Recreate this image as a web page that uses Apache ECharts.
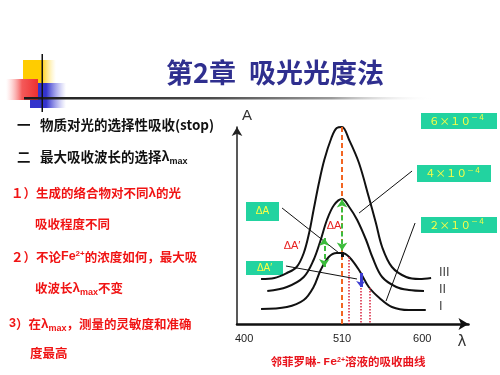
<!DOCTYPE html>
<html><head><meta charset="utf-8">
<script src="https://cdn.jsdelivr.net/npm/echarts@6/dist/echarts.min.js"></script>
<style>html,body{margin:0;padding:0;background:#fff}#c{width:500px;height:375px}</style>
</head><body><div id="c"></div>
<script>
// ---- data (wavelength nm, absorbance) ----
const xTicks = [400, 510, 600];
const curveI = [[419,0.075],[448,0.085],[467,0.12],[478,0.185],[486,0.27],[495,0.335],[504,0.355],[510,0.355],[518,0.335],[529,0.27],[540,0.185],[552,0.13],[566,0.085],[585,0.07],[604,0.07]];
const curveII = [[426,0.165],[448,0.185],[467,0.235],[478,0.32],[486,0.42],[493,0.52],[501,0.595],[510,0.625],[518,0.585],[527,0.52],[537,0.42],[544,0.335],[555,0.235],[571,0.185],[585,0.17],[602,0.165]];
const curveIII = [[419,0.225],[434,0.23],[448,0.255],[459,0.285],[467,0.355],[473,0.455],[478,0.57],[484,0.705],[490,0.82],[498,0.93],[504,0.98],[510,0.985],[518,0.92],[529,0.805],[540,0.635],[548,0.505],[555,0.385],[566,0.285],[582,0.235],[597,0.225],[610,0.23]];
const curveNames = ['I', 'II', 'III'];
const concLabels = ['２×１０', '４×１０', '６×１０'];
const peakLine = [[510, 0], [510, 0.985]];
const greenArrowPeak = [[510, 0.622], [510, 0.368]];
const greenArrowSide = [[490, 0.43], [490, 0.285]];
const blackMark = [[510, 0.36], [510, 0.335]];
const blueArrow = [[531, 0.255], [531, 0.185]];
const dotLines = [[[518, 0.335], [518, 0]], [[531, 0.18], [531, 0]], [[541, 0.18], [541, 0]]];
const leaderLines = [
  [[597.5, 1.025], [526.8, 0.89]],
  [[588.6, 0.765], [529.1, 0.555]],
  [[592, 0.505], [559.4, 0.115]],
  [[442.6, 0.58], [506.6, 0.355]],
  [[447, 0.29], [526.8, 0.225]]
];
const leftLines = [
  {x: 40, y: 125, color: '#111', size: 13.5, text: '物质对光的选择性吸收(stop)'},
  {x: 40, y: 157, color: '#111', size: 13.5, text: '最大吸收波长的选择{l|λ}{s|max}'},
  {x: 11, y: 193, color: '#f01414', size: 12.5, text: '１）生成的络合物对不同{l|λ}的光'},
  {x: 35, y: 224, color: '#f01414', size: 12.5, text: '吸收程度不同'},
  {x: 11, y: 257, color: '#f01414', size: 12.5, text: '２）不论{f|Fe}{p|2+}的浓度如何，最大吸'},
  {x: 35, y: 288, color: '#f01414', size: 12.5, text: '收波长{l|λ}{s|max}不变'},
  {x: 9, y: 324, color: '#f01414', size: 12.5, text: '{f|3}）在{l|λ}{s|max}，测量的灵敏度和准确'},
  {x: 30, y: 353, color: '#f01414', size: 12.5, text: '度最高'}
];

const CJK = '"Noto Sans CJK SC", "Noto Sans", sans-serif';
const LAT = '"Liberation Sans", Arial, sans-serif';

function richFor(color, size) {
  return {
    l: {fontFamily: LAT, fontWeight: 'bold', fontSize: size + 1, fill: color, lineHeight: 20},
    s: {fontFamily: LAT, fontWeight: 'bold', fontSize: 9, fill: color, verticalAlign: 'bottom', lineHeight: 9, padding: [0, 0, 1, 0]},
    f: {fontFamily: LAT, fontWeight: 'bold', fontSize: size, fill: color, lineHeight: 20},
    p: {fontFamily: LAT, fontWeight: 'bold', fontSize: 8, fill: color, verticalAlign: 'top', lineHeight: 8, padding: [3, 0, 0, 0]}
  };
}

const chart = echarts.init(document.getElementById('c'), null, {renderer: 'canvas', width: 500, height: 375});

function seg(p, style, s0, s1, size) {
  return [
    {coord: p[0], symbol: s0 || 'none', symbolSize: size || 8, lineStyle: style},
    {coord: p[1], symbol: s1 || 'none', symbolSize: size || 8}
  ];
}

const orangeStyle = {color: '#f26522', width: 2, type: [5, 3]};
const greenStyle = {color: '#3cbc3c', width: 2, type: [5, 3]};
const dotStyle = {color: '#d8203c', width: 1.5, type: [1.5, 1.5]};
const leaderStyle = {color: '#111', width: 1, type: 'solid'};

const markData = [];
leaderLines.forEach(p => markData.push(seg(p, leaderStyle)));
dotLines.forEach(p => markData.push(seg(p, dotStyle)));
markData.push(seg(peakLine, orangeStyle));
markData.push(seg(greenArrowPeak, greenStyle, 'arrow', 'arrow', [8, 8]));
markData.push(seg(greenArrowSide, greenStyle, 'arrow', 'arrow', [8, 8]));
markData.push(seg(blackMark, {color: '#111', width: 3, type: 'solid'}));
markData.push(seg(blueArrow, {color: '#3c3cd0', width: 3, type: 'solid'}, 'none', 'arrow', [7, 6]));

const curveSeries = [curveI, curveII, curveIII].map((d, i) => ({
  type: 'line', name: curveNames[i], data: d, smooth: 0.35, showSymbol: false, clip: false,
  lineStyle: {color: '#111', width: 2}, silent: true
}));

const graphics = [];
// decorative squares
graphics.push({type: 'rect', shape: {x: 23, y: 60, width: 33, height: 23}, style: {fill: new echarts.graphic.LinearGradient(0, 0, 1, 0, [{offset: 0, color: '#ffcc00'}, {offset: 0.55, color: '#ffcc00'}, {offset: 1, color: 'rgba(255,230,120,0)'}])}});
graphics.push({type: 'rect', shape: {x: 30, y: 83, width: 36, height: 25}, style: {fill: new echarts.graphic.LinearGradient(0, 0, 1, 0, [{offset: 0, color: '#3333cc'}, {offset: 0.45, color: '#3434cc'}, {offset: 1, color: 'rgba(120,120,230,0)'}])}});
graphics.push({type: 'rect', shape: {x: 6, y: 79, width: 32, height: 21}, style: {fill: new echarts.graphic.LinearGradient(0, 0, 1, 0, [{offset: 0, color: 'rgba(255,180,180,0)'}, {offset: 0.5, color: '#f45a5a'}, {offset: 1, color: '#ee3030'}])}});
graphics.push({type: 'rect', shape: {x: 24, y: 97, width: 410, height: 2.5}, style: {fill: new echarts.graphic.LinearGradient(0, 0, 1, 0, [{offset: 0, color: '#1a1a1a'}, {offset: 0.45, color: '#4a4a4a'}, {offset: 0.75, color: '#9a9a9a'}, {offset: 1, color: 'rgba(255,255,255,0)'}])}});
graphics.push({type: 'rect', shape: {x: 41.5, y: 54, width: 1.5, height: 58}, style: {fill: '#111'}});
// title
graphics.push({type: 'text', x: 166, y: 73, style: {text: '第2章', fontFamily: CJK, fontWeight: 'bold', fontSize: 27, fill: '#2f2f8f', verticalAlign: 'middle'}});
graphics.push({type: 'text', x: 249, y: 73, style: {text: '吸光光度法', fontFamily: CJK, fontWeight: 'bold', fontSize: 27, fill: '#2f2f8f', verticalAlign: 'middle'}});
// left bullet text
graphics.push({type: 'text', x: 17, y: 125, style: {text: '一', fontFamily: CJK, fontWeight: 'bold', fontSize: 13.5, fill: '#111', verticalAlign: 'middle'}});
graphics.push({type: 'text', x: 17, y: 157, style: {text: '二', fontFamily: CJK, fontWeight: 'bold', fontSize: 13.5, fill: '#111', verticalAlign: 'middle'}});
leftLines.forEach(l => {
  graphics.push({type: 'text', x: l.x, y: l.y, style: {text: l.text, fontFamily: CJK, fontWeight: 'bold', fontSize: l.size, fill: l.color, verticalAlign: 'middle', lineHeight: 20, rich: richFor(l.color, l.size)}});
});
// concentration boxes
const boxes = [
  {x: 421, y: 217, w: 76, h: 16},
  {x: 417, y: 165, w: 74, h: 17},
  {x: 421, y: 113, w: 76, h: 16}
];
boxes.forEach((b, i) => {
  graphics.push({type: 'rect', shape: {x: b.x, y: b.y, width: b.w, height: b.h}, style: {fill: '#22d3a0'}});
  graphics.push({type: 'text', x: b.x + 8, y: b.y + b.h / 2, style: {text: concLabels[i] + '{p|－４}', fontFamily: CJK, fontSize: 10.5, fill: '#ffff44', verticalAlign: 'middle', lineHeight: 14,
    rich: {p: {fontFamily: CJK, fontSize: 7, fill: '#ffff44', verticalAlign: 'top', lineHeight: 7}}}});
});
// delta boxes
graphics.push({type: 'rect', shape: {x: 246, y: 202, width: 33, height: 19}, style: {fill: '#22d3a0'}});
graphics.push({type: 'text', x: 262.5, y: 211.5, style: {text: 'ΔA', fontFamily: LAT, fontSize: 10, fill: '#ffff44', align: 'center', verticalAlign: 'middle'}});
graphics.push({type: 'rect', shape: {x: 246, y: 261, width: 37, height: 14}, style: {fill: '#22d3a0'}});
graphics.push({type: 'text', x: 264.5, y: 268, style: {text: 'ΔA′', fontFamily: LAT, fontSize: 10, fill: '#ffff44', align: 'center', verticalAlign: 'middle'}});
// red delta labels
graphics.push({type: 'text', x: 334, y: 226, style: {text: 'ΔA', fontFamily: LAT, fontSize: 11, fill: '#e82020', align: 'center', verticalAlign: 'middle'}});
graphics.push({type: 'text', x: 292, y: 246, style: {text: 'ΔA′', fontFamily: LAT, fontSize: 11, fill: '#e82020', align: 'center', verticalAlign: 'middle'}});
// roman numerals
[['III', 273], ['II', 290], ['I', 307]].forEach(r => {
  graphics.push({type: 'text', x: 439, y: r[1], style: {text: r[0], fontFamily: '"DejaVu Sans", sans-serif', fontSize: 12, fill: '#444', verticalAlign: 'middle'}});
});
// axis names
graphics.push({type: 'text', x: 247, y: 116, style: {text: 'A', fontFamily: LAT, fontSize: 15, fill: '#333', align: 'center', verticalAlign: 'middle'}});
graphics.push({type: 'text', x: 462, y: 342, style: {text: 'λ', fontFamily: '"DejaVu Sans", sans-serif', fontSize: 15, fill: '#333', align: 'center', verticalAlign: 'middle'}});
// caption
graphics.push({type: 'text', x: 348, y: 362, style: {text: '邻菲罗啉- {f|Fe}{p|2+}溶液的吸收曲线', fontFamily: CJK, fontWeight: 'bold', fontSize: 11.5, fill: '#e8141c', align: 'center', verticalAlign: 'middle', lineHeight: 16,
  rich: {f: {fontFamily: '"Liberation Mono", monospace', fontWeight: 'bold', fontSize: 11.5, fill: '#e8141c', lineHeight: 16}, p: {fontFamily: LAT, fontWeight: 'bold', fontSize: 7, fill: '#e8141c', verticalAlign: 'top', lineHeight: 7, padding: [3, 0, 0, 0]}}}});

chart.setOption({
  animation: false,
  backgroundColor: '#fff',
  grid: {left: 237, top: 127, right: 31.5, bottom: 51},
  xAxis: {
    type: 'value', min: 392, max: 652,
    axisLine: {show: true, onZero: false, symbol: ['none', 'arrow'], symbolSize: [9, 10], lineStyle: {color: '#111', width: 2.5}},
    axisTick: {show: false}, splitLine: {show: false},
    axisLabel: {customValues: xTicks, margin: 9, fontSize: 11, color: '#222', fontFamily: LAT}
  },
  yAxis: {
    type: 'value', min: 0, max: 0.985,
    axisLine: {show: true, onZero: false, symbol: ['none', 'arrow'], symbolSize: [8, 9], lineStyle: {color: '#222', width: 1.5}},
    axisTick: {show: false}, splitLine: {show: false}, axisLabel: {show: false}
  },
  series: curveSeries.concat([{
    type: 'line', name: 'annotations', data: [], clip: false, silent: true,
    markLine: {silent: true, label: {show: false}, emphasis: {disabled: true}, animation: false, data: markData}
  }]),
  graphic: graphics
});
</script></body></html>
